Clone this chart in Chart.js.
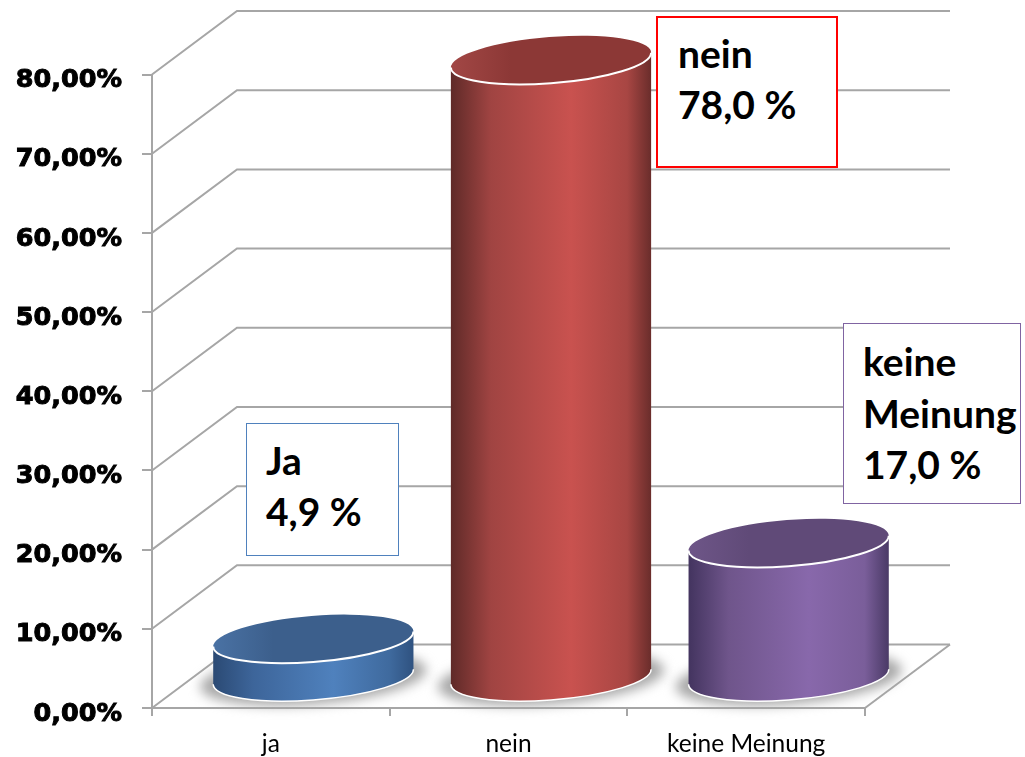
<!DOCTYPE html>
<html lang="de">
<head>
  <meta charset="UTF-8">
  <title>Umfrage</title>
  <script src="https://cdn.jsdelivr.net/npm/chart.js"></script>
  <style>
    body { margin: 0; background: #fff; }
    #wrap { position: relative; width: 1025px; height: 757px; overflow: hidden; }
    canvas { display: block; }
    .note {
      position: absolute;
      box-sizing: border-box;
      background: #fff;
      font-family: Lato, sans-serif;
      font-weight: 700;
      font-size: 39px;
      color: #000;
      white-space: nowrap;
    }
    #note-ja { left: 246px; top: 423px; width: 153px; height: 133px; border: 1.5px solid #4f81bd; padding: 11px 0 0 19px; line-height: 51px; }
    #note-nein { left: 656px; top: 16px; width: 182px; height: 152px; border: 2px solid #ff0000; padding: 10px 0 0 20px; line-height: 51px; }
    #note-keine { left: 843px; top: 323px; width: 178px; height: 181px; border: 1.5px solid #8064a2; padding: 12px 0 0 19px; line-height: 51.5px; }
  </style>
</head>
<body>
  <div id="wrap">
    <canvas id="chart" width="1025" height="757"></canvas>
    <div class="note" id="note-ja"></div>
    <div class="note" id="note-nein"></div>
    <div class="note" id="note-keine"></div>
  </div>

  <script>
    const categories = ['ja', 'nein', 'keine Meinung'];
    const shares = [4.9, 78.0, 17.0];
    const yTickLabels = ['0,00%', '10,00%', '20,00%', '30,00%', '40,00%', '50,00%', '60,00%', '70,00%', '80,00%'];
    const noteJa = ['Ja', '4,9 %'];
    const noteNein = ['nein', '78,0 %'];
    const noteKeine = ['keine', 'Meinung', '17,0 %'];

    const gridColor = '#a6a6a6';
    const depthX = 85;
    const depthY = 63.5;
    const tilt = -4.5 * Math.PI / 180;
    const flatness = 0.23;
    const floorShift = 1.5; // cylinders sit a bit in front of the floor middle

    // side gradient and lid colours per bar
    const sideStops = [0, 0.2, 0.6, 0.88, 1];
    const sides = [
      ['#2b4a74', '#3d659a', '#4f81bd', '#3f6a9e', '#2f5280'],
      ['#5f2a28', '#a04442', '#c9524f', '#a84643', '#6a2d2b'],
      ['#43345f', '#6f558b', '#8868ab', '#7a5e9a', '#4a3a66']
    ];
    const lidEdges = ['#4a72a4', '#a24745', '#6e5688'];
    const lids = ['#3c5f8c', '#8c3836', '#604a78'];

    document.getElementById('note-ja').innerHTML = noteJa.join('<br>');
    document.getElementById('note-nein').innerHTML = noteNein.join('<br>');
    document.getElementById('note-keine').innerHTML = noteKeine.join('<br>');

    const cylinders = {
      id: 'cylinders',
      beforeDatasetsDraw(chart) {
        const ctx = chart.ctx;
        const { x, y } = chart.scales;

        // side wall and back wall lines
        ctx.save();
        ctx.strokeStyle = gridColor;
        ctx.lineWidth = 2;
        y.ticks.forEach(t => {
          const py = y.getPixelForValue(t.value);
          ctx.beginPath();
          ctx.moveTo(x.left, py);
          ctx.lineTo(x.left + depthX, py - depthY);
          ctx.lineTo(x.right + depthX, py - depthY);
          ctx.stroke();
        });
        const floorY = y.getPixelForValue(0);
        ctx.beginPath();
        ctx.moveTo(x.right, floorY);
        ctx.lineTo(x.right + depthX, floorY - depthY);
        ctx.stroke();
        ctx.restore();

        const bars = chart.getDatasetMeta(0).data;

        // soft shadows on the floor first
        bars.forEach(bar => {
          const a = bar.width / 2;
          ctx.save();
          ctx.filter = 'blur(6px)';
          ctx.fillStyle = '#a8a8a8';
          ctx.beginPath();
          ctx.ellipse(bar.x + depthX / 2, bar.base - depthY / 2 + 3, a + 13, a * flatness + 3, tilt, 0, Math.PI * 2);
          ctx.fill();
          ctx.restore();
        });

        bars.forEach((bar, i) => {
          const a = bar.width / 2;
          const b = a * flatness;
          const cx = bar.x + depthX / 2;
          const yTop = bar.y - depthY / 2 + floorShift;
          const yBase = bar.base - depthY / 2 + floorShift;
          const t0 = Math.atan2(-b * Math.sin(tilt), a * Math.cos(tilt));
          const ex = a * Math.cos(t0) * Math.cos(tilt) - b * Math.sin(t0) * Math.sin(tilt);

          const grad = ctx.createLinearGradient(cx - ex, 0, cx + ex, 0);
          sides[i].forEach((c, k) => grad.addColorStop(sideStops[k], c));

          ctx.save();
          ctx.beginPath();
          ctx.ellipse(cx, yBase, a, b, tilt, t0, t0 + Math.PI);
          ctx.ellipse(cx, yTop, a, b, tilt, t0 + Math.PI, t0, true);
          ctx.closePath();
          ctx.fillStyle = grad;
          ctx.fill();

          // white rim round the base
          ctx.strokeStyle = '#fff';
          ctx.lineWidth = 1.5;
          ctx.beginPath();
          ctx.ellipse(cx, yBase, a, b, tilt, t0, t0 + Math.PI);
          ctx.stroke();

          const lidGrad = ctx.createLinearGradient(cx - ex, 0, cx + ex, 0);
          lidGrad.addColorStop(0, lidEdges[i]);
          lidGrad.addColorStop(0.3, lids[i]);
          lidGrad.addColorStop(1, lids[i]);
          ctx.beginPath();
          ctx.ellipse(cx, yTop, a, b, tilt, 0, Math.PI * 2);
          ctx.fillStyle = lidGrad;
          ctx.fill();

          ctx.strokeStyle = '#fff';
          ctx.lineWidth = 2;
          ctx.beginPath();
          ctx.ellipse(cx, yTop, a, b, tilt, t0, t0 + Math.PI);
          ctx.stroke();
          ctx.restore();
        });
      }
    };

    new Chart(document.getElementById('chart'), {
      type: 'bar',
      data: {
        labels: categories,
        datasets: [{
          data: shares,
          backgroundColor: 'transparent',
          categoryPercentage: 1,
          barPercentage: 0.845
        }]
      },
      options: {
        responsive: false,
        animation: false,
        layout: { padding: { top: 74.5, right: 160, left: 0, bottom: 0 } },
        plugins: { legend: { display: false }, tooltip: { enabled: false } },
        scales: {
          y: {
            min: 0,
            max: 80,
            afterFit: s => { s.width = 152; },
            ticks: {
              stepSize: 10,
              padding: 20,
              labelOffset: 6,
              color: '#000',
              textStrokeColor: '#000',
              textStrokeWidth: 1,
              font: { family: 'DejaVu Sans', weight: 'bold', size: 25.5 },
              callback: (v, i) => yTickLabels[i]
            },
            grid: { drawOnChartArea: false, color: gridColor, lineWidth: 2, tickLength: 10 },
            border: { color: gridColor, width: 2 }
          },
          x: {
            afterFit: s => { s.height = 49; },
            ticks: {
              padding: 13,
              color: '#000',
              font: { family: 'Lato', size: 24.5 }
            },
            grid: { drawOnChartArea: false, color: gridColor, lineWidth: 2, tickLength: 8 },
            border: { color: gridColor, width: 2 }
          }
        }
      },
      plugins: [cylinders]
    });
  </script>
</body>
</html>
